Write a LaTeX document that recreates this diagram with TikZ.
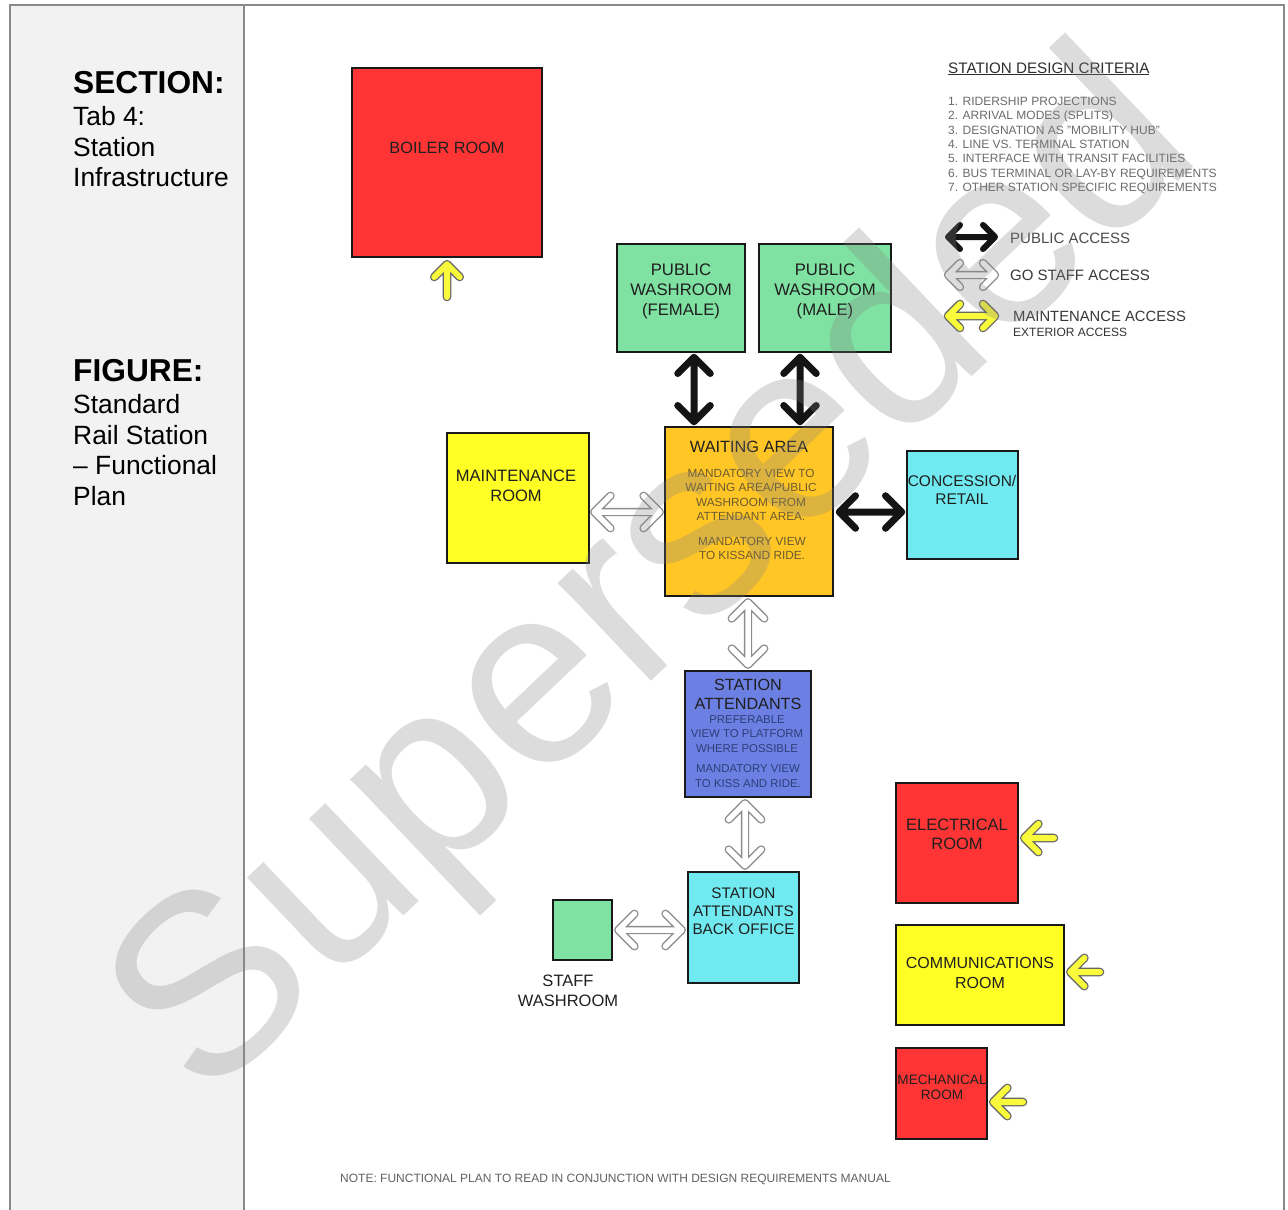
\documentclass[tikz,border=0pt]{standalone}
\usepackage{fontspec}
\setmainfont{Liberation Sans}
\usetikzlibrary{calc}
\definecolor{rred}{HTML}{FF3535}
\definecolor{rgreen}{HTML}{80E2A2}
\definecolor{rorange}{HTML}{FFC626}
\definecolor{ryellow}{HTML}{FFFF26}
\definecolor{rcyan}{HTML}{70EAF0}
\definecolor{rblue}{HTML}{6B80E2}
\definecolor{panel}{HTML}{F2F2F2}
\definecolor{frame}{HTML}{8A8A8A}
\definecolor{arryel}{HTML}{FAFA3C}
\definecolor{waitsub}{HTML}{6A5A30}
\definecolor{attsub}{HTML}{2E3E78}
\begin{document}
\begin{tikzpicture}[x=1pt,y=-1pt,
  room/.style={draw=black!90, line width=2.5pt, inner sep=0pt},
  lbl/.style={align=center, text=black!88, inner sep=0pt, font=\fontsize{16.3}{19.8}\selectfont},
  waitsubtxt/.style={align=center, text=waitsub, inner sep=0pt, font=\fontsize{11.8}{14.5}\selectfont},
  attsubtxt/.style={align=center, text=attsub, inner sep=0pt, font=\fontsize{11.4}{14.2}\selectfont},
  dbl/.style={to path={($(\tikztostart)!#1!45:(\tikztotarget)$) -- (\tikztostart) -- ($(\tikztostart)!#1!-45:(\tikztotarget)$)
      (\tikztostart) -- (\tikztotarget)
      ($(\tikztotarget)!#1!45:(\tikztostart)$) -- (\tikztotarget) -- ($(\tikztotarget)!#1!-45:(\tikztostart)$)}},
  sgl/.style={to path={(\tikztostart) -- (\tikztotarget)
      ($(\tikztotarget)!#1!45:(\tikztostart)$) -- (\tikztotarget) -- ($(\tikztotarget)!#1!-45:(\tikztostart)$)}},
  pubarr/.style={draw=black!92, line width=7pt, line cap=round, line join=round},
  staffarr/.style={draw=black!45, line width=1.4pt, double=white, double distance=5.5pt, line cap=round, line join=round},
  mntarr/.style={draw=black!60, line width=1.3pt, double=arryel, double distance=6pt, line cap=round, line join=round},
]
\useasboundingbox (0,0) rectangle (1288,1210);
% frame and left panel
\fill[white] (0,0) rectangle (1288,1210);
\fill[panel] (10,5) rectangle (244,1215);
\draw[frame, line width=1.5pt] (10,1215) -- (10,5) -- (1284,5) -- (1284,1215);
\draw[frame, line width=1.5pt] (244,5) -- (244,1215);

% left panel text
\node[anchor=base west, inner sep=0pt, font=\fontsize{31.7}{34}\selectfont\bfseries] (sec) at (73,93) {SECTION:};
\node[anchor=north west, inner sep=0pt, align=left, font=\fontsize{26.4}{30.5}\selectfont] (sectxt) at (73,106.5) {Tab 4:\\Station\\Infrastructure};
\node[anchor=base west, inner sep=0pt, font=\fontsize{31.7}{34}\selectfont\bfseries] (fig) at (73,381) {FIGURE:};
\node[anchor=north west, inner sep=0pt, align=left, font=\fontsize{26.4}{30.5}\selectfont] (figtxt) at (73,394.5) {Standard\\Rail Station\\– Functional\\Plan};

% rooms
\node[room, fill=rred, minimum width=190pt, minimum height=189pt] (boiler) at (447,162.5) {};
\node[room, fill=rgreen, minimum width=128pt, minimum height=108pt] (pwf) at (681,298) {};
\node[room, fill=rgreen, minimum width=132pt, minimum height=108pt] (pwm) at (825,298) {};
\node[room, fill=rorange, minimum width=168pt, minimum height=169pt] (wait) at (749,511.5) {};
\node[room, fill=ryellow, minimum width=142pt, minimum height=130pt] (maint) at (518,498) {};
\node[room, fill=rcyan, minimum width=111pt, minimum height=108pt] (conc) at (962.5,505) {};
\node[room, fill=rblue, minimum width=126pt, minimum height=126pt] (attend) at (748,734) {};
\node[room, fill=rcyan, minimum width=111pt, minimum height=111pt] (back) at (743.5,927.5) {};
\node[room, fill=rgreen, minimum width=59pt, minimum height=60pt] (staffwc) at (582.5,930) {};
\node[room, fill=rred, minimum width=122pt, minimum height=120pt] (elec) at (957,843) {};
\node[room, fill=ryellow, minimum width=168pt, minimum height=100pt] (comm) at (980,975) {};
\node[room, fill=rred, minimum width=91pt, minimum height=91pt] (mech) at (941.5,1093.5) {};

% room labels
\node[lbl] (tboiler) at (447,148) {BOILER ROOM};
\node[lbl, font=\fontsize{16.7}{19.8}\selectfont] (tpwf) at (681,291.5) {PUBLIC\\WASHROOM\\(FEMALE)};
\node[lbl, font=\fontsize{16.7}{19.8}\selectfont] (tpwm) at (825,291.5) {PUBLIC\\WASHROOM\\(MALE)};
\node[lbl] (twait) at (749,447) {WAITING AREA};
\node[waitsubtxt] (twait1) at (751,495) {MANDATORY VIEW TO\\WAITING AREA/PUBLIC\\WASHROOM FROM\\ATTENDANT AREA.};
\node[waitsubtxt] (twait2) at (752,548.5) {MANDATORY VIEW\\TO KISSAND RIDE.};
\node[lbl, font=\fontsize{16.5}{19.8}\selectfont] (tmaint) at (516,486) {MAINTENANCE\\ROOM};
\node[lbl, font=\fontsize{15.5}{18}\selectfont] (tconc) at (962,490) {CONCESSION/\\RETAIL};
\node[lbl, font=\fontsize{16.2}{19}\selectfont] (tatt) at (748,694.5) {STATION\\ATTENDANTS};
\node[attsubtxt] (tatt1) at (747,734) {PREFERABLE\\VIEW TO PLATFORM\\WHERE POSSIBLE};
\node[attsubtxt] (tatt2) at (748,776) {MANDATORY VIEW\\TO KISS AND RIDE.};
\node[lbl, font=\fontsize{15.3}{18}\selectfont] (tback) at (743.5,911) {STATION\\ATTENDANTS\\BACK OFFICE};
\node[lbl, font=\fontsize{16.5}{20}\selectfont] (tstaff) at (568,991) {STAFF\\WASHROOM};
\node[lbl, font=\fontsize{16.5}{19.5}\selectfont] (telec) at (957,834.5) {ELECTRICAL\\ROOM};
\node[lbl, font=\fontsize{16}{20}\selectfont] (tcomm) at (980,973) {COMMUNICATIONS\\ROOM};
\node[lbl, font=\fontsize{13.6}{15}\selectfont] (tmech) at (942,1087.5) {MECHANICAL\\ROOM};

% connector end points
\coordinate (pwfA) at ($(pwf.south)+(13,4)$);
\coordinate (waitF) at ($(wait.north)+(-55,-4)$);
\coordinate (pwmA) at ($(pwm.south)+(-25,4)$);
\coordinate (waitM) at ($(wait.north)+(51,-4)$);
\coordinate (maintA) at ($(maint.east)+(4,14)$);
\coordinate (waitW) at ($(wait.west)+(-4,0.5)$);
\coordinate (waitE) at ($(wait.east)+(5,0.5)$);
\coordinate (concW) at ($(conc.west)+(-4,7)$);
\coordinate (waitS) at ($(wait.south)+(-1,5)$);
\coordinate (attN) at ($(attend.north)+(0,-5)$);
\coordinate (attS) at ($(attend.south)+(-3,5)$);
\coordinate (backN) at ($(back.north)+(1.5,-5)$);
\coordinate (staffE) at ($(staffwc.east)+(5,0)$);
\coordinate (backW) at ($(back.west)+(-5,2.5)$);
\coordinate (boilerTail) at (447,297);
\coordinate (boilerTip) at ($(boiler.south)+(0,6)$);
\coordinate (elecTail) at (1054,838);
\coordinate (elecTip) at ($(elec.east)+(5,-5)$);
\coordinate (commTail) at (1100,972);
\coordinate (commTip) at ($(comm.east)+(5,-3)$);
\coordinate (mechTail) at (1023,1102);
\coordinate (mechTip) at ($(mech.east)+(5,8.5)$);

% connectors
\draw[pubarr] (pwfA) to[dbl=23pt] (waitF);
\draw[pubarr] (pwmA) to[dbl=23pt] (waitM);
\draw[pubarr] (waitE) to[dbl=23pt] (concW);
\draw[staffarr] (maintA) to[dbl=23pt] (waitW);
\draw[staffarr] (waitS) to[dbl=23pt] (attN);
\draw[staffarr] (attS) to[dbl=23pt] (backN);
\draw[staffarr] (staffE) to[dbl=23pt] (backW);
\draw[mntarr] (boilerTail) to[sgl=18pt] (boilerTip);
\draw[mntarr] (elecTail) to[sgl=20pt] (elecTip);
\draw[mntarr] (commTail) to[sgl=20pt] (commTip);
\draw[mntarr] (mechTail) to[sgl=20pt] (mechTip);

% legend
\node[anchor=base west, inner sep=0pt, text=black!82, font=\fontsize{15.2}{17}\selectfont] (crit) at (948,73) {\underline{STATION DESIGN CRITERIA}};
\node[anchor=north west, inner sep=0pt, align=left, text=black!58, font=\fontsize{12}{14.35}\selectfont] (critlist) at (948,96.8)
 {1. RIDERSHIP PROJECTIONS\\2. ARRIVAL MODES (SPLITS)\\3. DESIGNATION AS "MOBILITY HUB"\\4. LINE VS. TERMINAL STATION\\5. INTERFACE WITH TRANSIT FACILITIES\\6. BUS TERMINAL OR LAY-BY REQUIREMENTS\\7. OTHER STATION SPECIFIC REQUIREMENTS};
\coordinate (lgA1) at (948,237);
\coordinate (lgA2) at (995,237);
\coordinate (lgB1) at (948,275);
\coordinate (lgB2) at (995,275);
\coordinate (lgC1) at (948,316);
\coordinate (lgC2) at (995,316);
\draw[pubarr, line width=6pt] (lgA1) to[dbl=17pt] (lgA2);
\draw[staffarr] (lgB1) to[dbl=17pt] (lgB2);
\draw[mntarr] (lgC1) to[dbl=17pt] (lgC2);
\node[anchor=west, inner sep=0pt, text=black!70, font=\fontsize{15}{16}\selectfont] (lgAt) at (1010,238) {PUBLIC ACCESS};
\node[anchor=west, inner sep=0pt, text=black!78, font=\fontsize{15}{16}\selectfont] (lgBt) at (1010,275.5) {GO STAFF ACCESS};
\node[anchor=west, inner sep=0pt, text=black!78, font=\fontsize{14.8}{16}\selectfont] (lgCt) at (1013,316.5) {MAINTENANCE ACCESS};
\node[anchor=west, inner sep=0pt, text=black!80, font=\fontsize{12}{14}\selectfont] (lgCt2) at (1013,332) {EXTERIOR ACCESS};

% note
\node[anchor=base west, inner sep=0pt, text=black!62, font=\fontsize{12}{13}\selectfont] (note) at (340,1182) {NOTE: FUNCTIONAL PLAN TO READ IN CONJUNCTION WITH DESIGN REQUIREMENTS MANUAL};

% watermark
\node[rotate=43.5, inner sep=0pt, text=gray, text opacity=0.27, font=\fontsize{256}{256}\selectfont] (wm) at (660,582) {Superseded};
\end{tikzpicture}
\end{document}
